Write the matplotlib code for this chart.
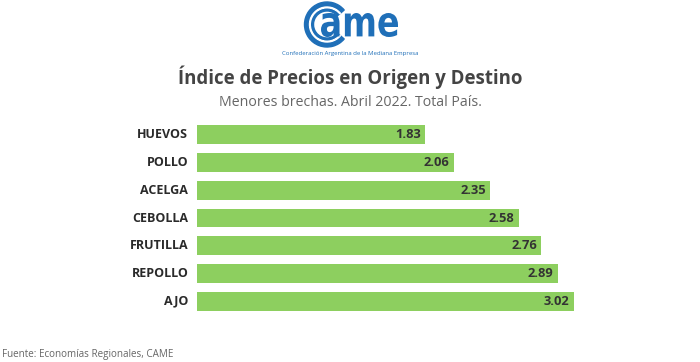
import matplotlib
matplotlib.use("Agg")
import matplotlib.pyplot as plt
from matplotlib.patches import Wedge, PathPatch
from matplotlib.textpath import TextPath
from matplotlib.font_manager import FontProperties
from matplotlib.transforms import Affine2D

categories = ["HUEVOS", "POLLO", "ACELGA", "CEBOLLA", "FRUTILLA", "REPOLLO", "AJO"]
values = [1.83, 2.06, 2.35, 2.58, 2.76, 2.89, 3.02]

W, H = 700, 362
fig = plt.figure(figsize=(W / 100, H / 100), dpi=100)
fig.patch.set_facecolor("white")
FONT = "Open Sans"

# bar axes
xmax = 3.2
ax = fig.add_axes([197 / W, 1 - 315 / H, (xmax * 124.8) / W, 194 / H])
y = list(range(len(categories)))
ax.barh(y, values, height=0.68, color="#8dcf5f", edgecolor="none")
ax.set_xlim(0, xmax)
ax.set_ylim(len(categories) - 0.5, -0.5)
ax.axis("off")
for yi, v in zip(y, values):
    ax.text(v - 0.035, yi, f"{v:.2f}", ha="right", va="center", fontsize=9.3,
            fontweight="bold", color="#333333", family=FONT)
    ax.text(-0.07, yi, categories[yi], ha="right", va="center", fontsize=9,
            fontweight="bold", color="#2a2a2a", family=FONT)

# titles
fig.text(350 / W, 1 - 77 / H, "Índice de Precios en Origen y Destino", ha="center",
         va="center", fontsize=13.4, fontweight="bold", color="#444444", family=FONT)
fig.text(350 / W, 1 - 102 / H, "Menores brechas. Abril 2022. Total País.", ha="center",
         va="center", fontsize=10.2, color="#666666", family=FONT)
fig.text(2 / W, 1 - 354 / H, "Fuente: Economías Regionales, CAME", ha="left",
         va="center", fontsize=7.1, color="#666666", family=FONT)

# logo
lax = fig.add_axes([280 / W, 1 - 60 / H, 140 / W, 60 / H])
lax.set_xlim(280, 420)
lax.set_ylim(60, 0)
lax.axis("off")
blue = "#1f6fb8"
lax.add_patch(Wedge((327, 24.5), 22.5, 40, 320, width=9, color=blue))
lax.add_patch(Wedge((327, 24.5), 17.5, 40, 320, width=0.8, color="white"))
tp = TextPath((0, 0), "ame", size=1, prop=FontProperties(family="DejaVu Sans", weight="bold"))
ext = tp.get_extents()
sx = (398 - 321) / ext.width
sy = (37 - 13) / ext.height
tr = Affine2D().translate(-ext.x0, -ext.y0).scale(sx, -sy).translate(321, 37)
lax.add_patch(PathPatch(tr.transform_path(tp), color=blue, lw=0))
lax.text(350.5, 53, "Confederación Argentina de la Mediana Empresa", ha="center",
         va="center", fontsize=4.3, color=blue, family=FONT)

fig.savefig("out.png", dpi=100, facecolor="white")
